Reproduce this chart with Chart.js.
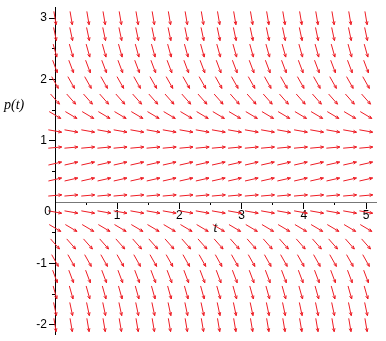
<!DOCTYPE html>
<html lang="en">
<head>
  <meta charset="UTF-8">
  <title>Direction field p(t)</title>
  <script src="https://cdn.jsdelivr.net/npm/chart.js"></script>
  <style>
    body { margin: 0; background: #fff; }
    canvas { display: block; }
  </style>
</head>
<body>
<canvas id="myChart" width="386" height="341"></canvas>

<script>
  // grid of t values (columns) and p values (rows) where arrows sit
  const tValues = [0, 0.26, 0.53, 0.79, 1.05, 1.32, 1.58, 1.84, 2.11, 2.37,
                   2.63, 2.89, 3.16, 3.42, 3.68, 3.95, 4.21, 4.47, 4.74, 5];
  const pValues = [-2, -1.74, -1.47, -1.21, -0.95, -0.68, -0.42, -0.16, 0.11, 0.37,
                   0.63, 0.89, 1.16, 1.42, 1.68, 1.95, 2.21, 2.47, 2.74, 3];
  // slope dp/dt (same for every column)
  const rowSlopes = [-6, -4.8, -3.6, -2.7, -1.8, -1.15, -0.6, -0.18, 0.09, 0.23,
                     0.23, 0.09, -0.18, -0.6, -1.15, -1.8, -2.7, -3.6, -4.8, -6];
  const xTicks = [1, 2, 3, 4, 5];
  const xMinorTicks = [0.5, 1.5, 2.5, 3.5, 4.5];
  const yTicks = [-2, -1, 1, 2, 3];
  const yMinorTicks = [-1.5, -0.5, 0.5, 1.5, 2.5];

  const ARROW_LEN = 13.5;
  const ARROW_COLOR = '#ee1c24';

  const points = [];
  pValues.forEach((p, i) => {
    tValues.forEach(t => points.push({ x: t, y: p, s: rowSlopes[i] }));
  });

  const arrowPlugin = {
    id: 'arrows',
    afterDatasetsDraw(chart) {
      const c = chart.ctx;
      const xs = chart.scales.x, ys = chart.scales.y;
      const meta = chart.getDatasetMeta(0);
      c.save();
      c.strokeStyle = ARROW_COLOR;
      c.lineWidth = 1;
      meta.data.forEach((el, k) => {
        const s = points[k].s;
        let vx = xs.getPixelForValue(1) - xs.getPixelForValue(0);
        let vy = ys.getPixelForValue(s) - ys.getPixelForValue(0);
        const n = Math.hypot(vx, vy);
        vx /= n; vy /= n;
        const x0 = el.x - vx * ARROW_LEN / 2, y0 = el.y - vy * ARROW_LEN / 2;
        const x1 = el.x + vx * ARROW_LEN / 2, y1 = el.y + vy * ARROW_LEN / 2;
        c.beginPath();
        c.moveTo(x0, y0);
        c.lineTo(x1, y1);
        const a = Math.atan2(vy, vx);
        [0.4, -0.4].forEach(d => {
          c.moveTo(x1, y1);
          c.lineTo(x1 - 3.5 * Math.cos(a + d), y1 - 3.5 * Math.sin(a + d));
        });
        c.stroke();
      });
      c.restore();
    },
    afterDraw(chart) {
      const c = chart.ctx;
      const xs = chart.scales.x, ys = chart.scales.y;
      c.save();
      c.fillStyle = '#000';
      c.font = '12px "Liberation Sans"';
      c.textAlign = 'right';
      c.textBaseline = 'middle';
      c.fillText('0', xs.getPixelForValue(0) - 4, ys.getPixelForValue(0) + 9);
      c.font = 'italic 14px "Liberation Serif"';
      c.textAlign = 'left';
      c.fillText('p(t)', 4, 105);
      c.restore();
    }
  };

  const setTicks = (list) => (scale) => { scale.ticks = list.map(v => ({ value: v })); };

  new Chart(document.getElementById('myChart'), {
    type: 'scatter',
    data: {
      datasets: [{ data: points, pointRadius: 0, pointHoverRadius: 0 }]
    },
    options: {
      responsive: false,
      animation: false,
      events: [],
      layout: { padding: { left: 0, right: 10, top: 7, bottom: 6 } },
      plugins: { legend: { display: false }, tooltip: { enabled: false } },
      scales: {
        x: {
          type: 'linear', min: 0, max: 5.16, position: { y: 0 },
          afterBuildTicks: setTicks(xTicks),
          border: { color: '#777' },
          grid: { drawOnChartArea: false, tickLength: 6, tickColor: '#000' },
          ticks: { padding: 0, color: '#000', autoSkip: false, maxRotation: 0,
                   font: { family: 'Liberation Sans', size: 12 } },
          title: { display: true, text: 't', color: '#000', padding: { top: -3, bottom: 0 },
                   font: { family: 'Liberation Serif', style: 'italic', size: 14 } }
        },
        xMinor: {
          axis: 'x', type: 'linear', min: 0, max: 5.16, position: { y: 0 },
          afterBuildTicks: setTicks(xMinorTicks),
          border: { display: false },
          grid: { drawOnChartArea: false, tickLength: 3, tickColor: '#000' },
          ticks: { display: false }
        },
        y: {
          type: 'linear', min: -2.15, max: 3.18, position: 'left',
          afterBuildTicks: setTicks(yTicks),
          afterFit: (scale) => { scale.width = 55; },
          border: { color: '#000' },
          grid: { drawOnChartArea: false, tickLength: 6, tickColor: '#000' },
          ticks: { padding: 2, color: '#000', autoSkip: false,
                   font: { family: 'Liberation Sans', size: 12, lineHeight: 0.8 } }
        },
        yMinor: {
          axis: 'y', type: 'linear', min: -2.15, max: 3.18, position: { x: 0 },
          afterBuildTicks: setTicks(yMinorTicks),
          border: { display: false },
          grid: { drawOnChartArea: false, tickLength: 3, tickColor: '#000' },
          ticks: { display: false }
        }
      }
    },
    plugins: [arrowPlugin]
  });
</script>
</body>
</html>
